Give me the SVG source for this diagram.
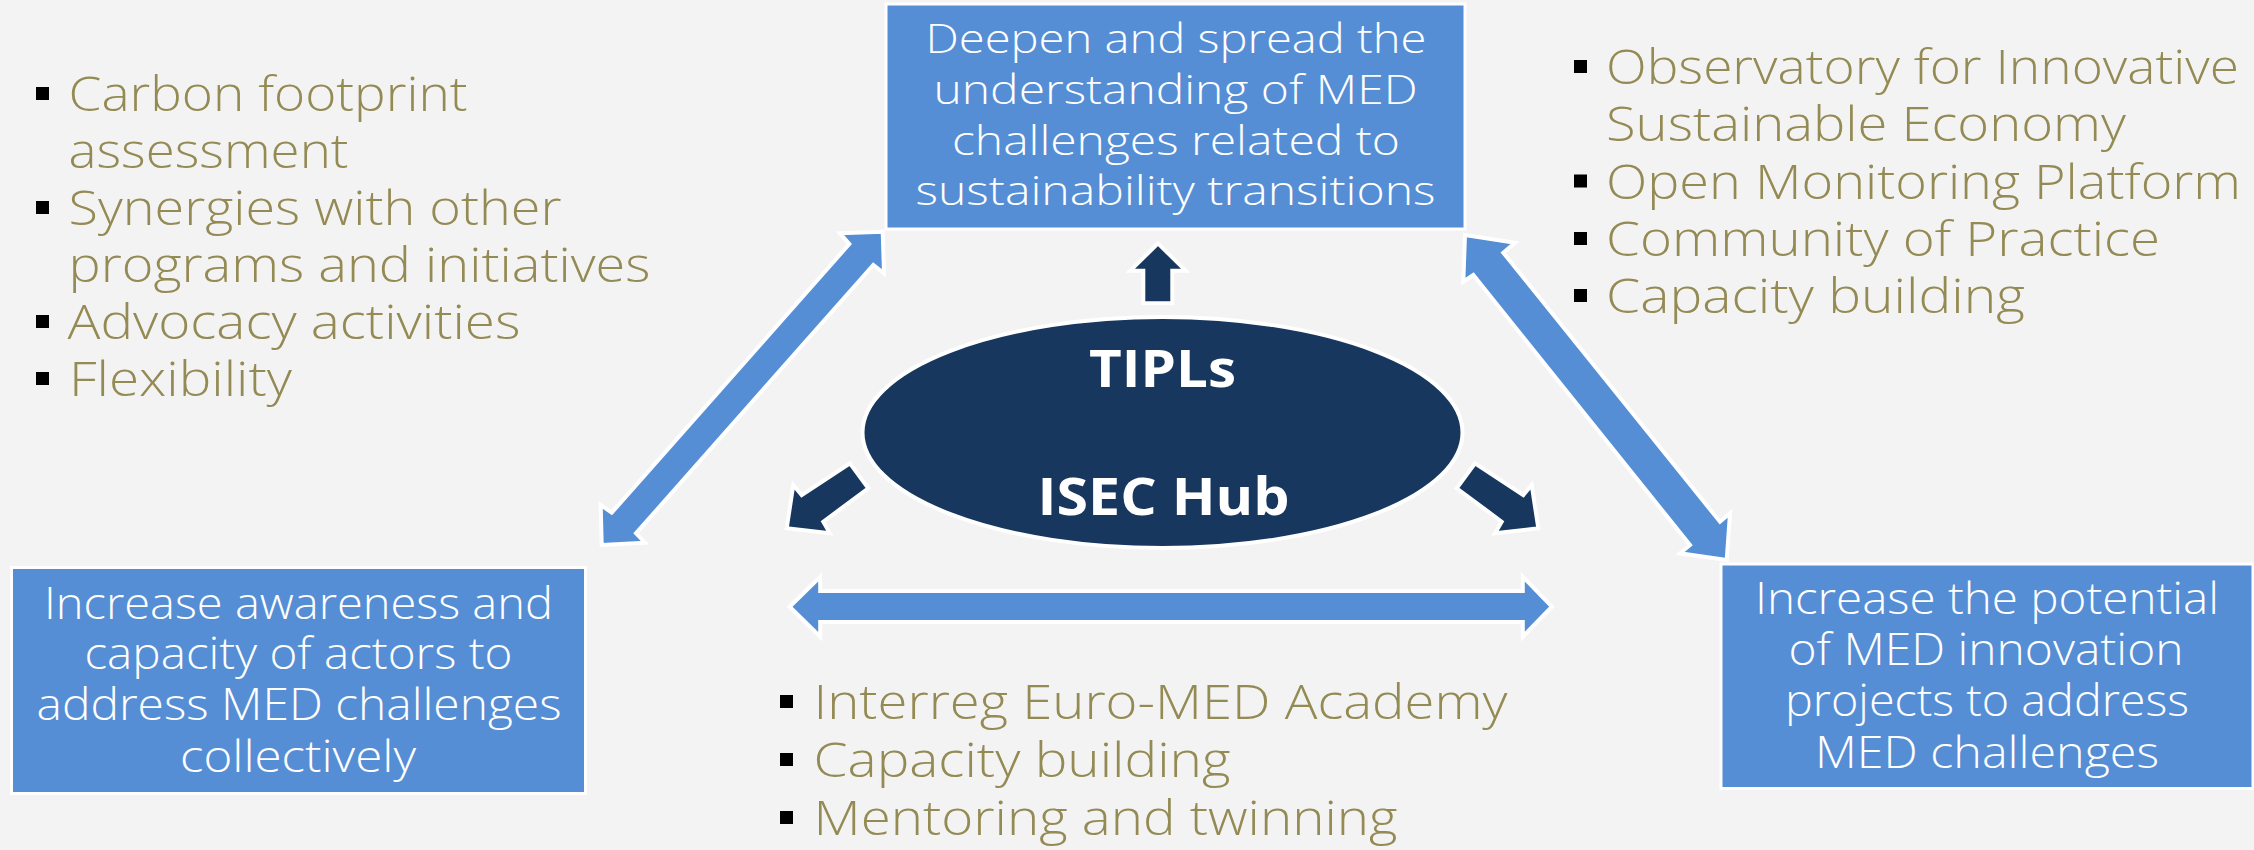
<svg xmlns="http://www.w3.org/2000/svg" width="2254" height="850" viewBox="0 0 2254 850">
<style>
.bg{fill:#F3F3F3}
.box{fill:#558ED5;stroke:#FFFFFF;stroke-width:3}
.boxtxt{font-family:"Open Sans","Liberation Sans",sans-serif;font-weight:300;fill:#FFFFFF;text-anchor:middle}
.hub{fill:#17375E;stroke:#FFFFFF;stroke-width:4}
.hubtxt{font-family:"Open Sans","Liberation Sans",sans-serif;font-weight:700;font-size:52px;fill:#FFFFFF;text-anchor:middle}
.bul{font-family:"Open Sans","Liberation Sans",sans-serif;font-weight:300;font-size:47px;fill:#948A54}
.sq{fill:#000000}
.link{fill:#558ED5;stroke:#FFFFFF;stroke-width:4;stroke-linejoin:miter}
.dark{fill:#17375E;stroke:#FFFFFF;stroke-width:4;stroke-linejoin:miter}
</style>
<rect class="bg" x="0" y="0" width="2254" height="850"/>

<g id="connectors">
  <polygon class="link" points="882.7,231.7 840,233.3 849.3,244 611.7,512.7 600.7,505 601.7,545 645,542.7 636,533.3 873.3,265 884,273.3"/>
  <polygon class="link" points="1465,235 1515,242.7 1503.3,252.7 1720,521.7 1730,513.3 1726.7,560 1680,553.3 1690,545 1473.3,275 1463.3,281.7"/>
  <polygon class="link" points="789.6,606.7 820.2,576.7 820.2,591 1522.8,591 1522.8,576.7 1551.9,606.7 1522.8,636.7 1522.8,622 820.2,622 820.2,636.7"/>
  <polygon class="dark" points="1158,243.3 1185.7,270.7 1172.3,270.7 1172.3,303.3 1143.3,303.3 1143.3,270.7 1130.3,270.7"/>
  <polygon class="dark" points="850,463.3 868.3,488.3 823.3,521.7 830,533.3 786.7,528.3 793.3,485 801.7,495"/>
  <polygon class="dark" points="1475,463.3 1456.7,488.3 1501.7,521.7 1495,533.3 1538.3,528.3 1531.7,485 1523.3,495"/>
</g>

<g id="hub">
  <ellipse class="hub" cx="1162.5" cy="432.5" rx="300" ry="115.5"/>
  <text class="hubtxt" x="1162.5" y="387" textLength="147" lengthAdjust="spacingAndGlyphs">TIPLs</text>
  <text class="hubtxt" x="1163.5" y="515" textLength="252" lengthAdjust="spacingAndGlyphs">ISEC Hub</text>
</g>

<g id="box-top">
  <rect class="box" x="886" y="4" width="579" height="225"/>
  <text class="boxtxt" font-size="40" x="1176" y="53" textLength="501" lengthAdjust="spacingAndGlyphs">Deepen and spread the</text>
  <text class="boxtxt" font-size="40" x="1175.5" y="103.5" textLength="484" lengthAdjust="spacingAndGlyphs">understanding of MED</text>
  <text class="boxtxt" font-size="40" x="1176" y="154.5" textLength="448" lengthAdjust="spacingAndGlyphs">challenges related to</text>
  <text class="boxtxt" font-size="40" x="1175.5" y="205" textLength="520" lengthAdjust="spacingAndGlyphs">sustainability transitions</text>
</g>

<g id="box-left">
  <rect class="box" x="11.5" y="567.5" width="574" height="226"/>
  <text class="boxtxt" font-size="44" x="298.5" y="618.5" textLength="509" lengthAdjust="spacingAndGlyphs">Increase awareness and</text>
  <text class="boxtxt" font-size="44" x="298.5" y="669" textLength="428" lengthAdjust="spacingAndGlyphs">capacity of actors to</text>
  <text class="boxtxt" font-size="44" x="299" y="720" textLength="525" lengthAdjust="spacingAndGlyphs">address MED challenges</text>
  <text class="boxtxt" font-size="44" x="298" y="771.5" textLength="236" lengthAdjust="spacingAndGlyphs">collectively</text>
</g>

<g id="box-right">
  <rect class="box" x="1721" y="564" width="532" height="224.5"/>
  <text class="boxtxt" font-size="44" x="1987" y="614" textLength="464" lengthAdjust="spacingAndGlyphs">Increase the potential</text>
  <text class="boxtxt" font-size="44" x="1986" y="665" textLength="395" lengthAdjust="spacingAndGlyphs">of MED innovation</text>
  <text class="boxtxt" font-size="44" x="1987" y="716" textLength="404" lengthAdjust="spacingAndGlyphs">projects to address</text>
  <text class="boxtxt" font-size="44" x="1987" y="767.5" textLength="344" lengthAdjust="spacingAndGlyphs">MED challenges</text>
</g>

<g id="list-left">
  <rect class="sq" x="36" y="87" width="13" height="13"/>
  <text class="bul" x="68.5" y="111" textLength="399" lengthAdjust="spacingAndGlyphs">Carbon footprint</text>
  <text class="bul" x="68.5" y="168" textLength="280" lengthAdjust="spacingAndGlyphs">assessment</text>
  <rect class="sq" x="36" y="201" width="13" height="13"/>
  <text class="bul" x="68.5" y="225" textLength="493" lengthAdjust="spacingAndGlyphs">Synergies with other</text>
  <text class="bul" x="68.5" y="282" textLength="582" lengthAdjust="spacingAndGlyphs">programs and initiatives</text>
  <rect class="sq" x="36" y="315" width="13" height="13"/>
  <text class="bul" x="67.5" y="339" textLength="453" lengthAdjust="spacingAndGlyphs">Advocacy activities</text>
  <rect class="sq" x="36" y="372" width="13" height="13"/>
  <text class="bul" x="69" y="396" textLength="223" lengthAdjust="spacingAndGlyphs">Flexibility</text>
</g>

<g id="list-right">
  <rect class="sq" x="1574" y="60" width="13" height="13"/>
  <text class="bul" x="1606" y="84" textLength="633" lengthAdjust="spacingAndGlyphs">Observatory for Innovative</text>
  <text class="bul" x="1606" y="141" textLength="520" lengthAdjust="spacingAndGlyphs">Sustainable Economy</text>
  <rect class="sq" x="1574" y="174.5" width="13" height="13"/>
  <text class="bul" x="1606" y="198.5" textLength="635" lengthAdjust="spacingAndGlyphs">Open Monitoring Platform</text>
  <rect class="sq" x="1574" y="232" width="13" height="13"/>
  <text class="bul" x="1606" y="256" textLength="554" lengthAdjust="spacingAndGlyphs">Community of Practice</text>
  <rect class="sq" x="1574" y="289" width="13" height="13"/>
  <text class="bul" x="1606" y="313" textLength="419" lengthAdjust="spacingAndGlyphs">Capacity building</text>
</g>

<g id="list-bottom">
  <rect class="sq" x="780" y="695" width="13" height="13"/>
  <text class="bul" x="813.5" y="719" textLength="694" lengthAdjust="spacingAndGlyphs">Interreg Euro-MED Academy</text>
  <rect class="sq" x="780" y="753" width="13" height="13"/>
  <text class="bul" x="813.5" y="777" textLength="417" lengthAdjust="spacingAndGlyphs">Capacity building</text>
  <rect class="sq" x="780" y="811" width="13" height="13"/>
  <text class="bul" x="813.5" y="835" textLength="584" lengthAdjust="spacingAndGlyphs">Mentoring and twinning</text>
</g>
</svg>
